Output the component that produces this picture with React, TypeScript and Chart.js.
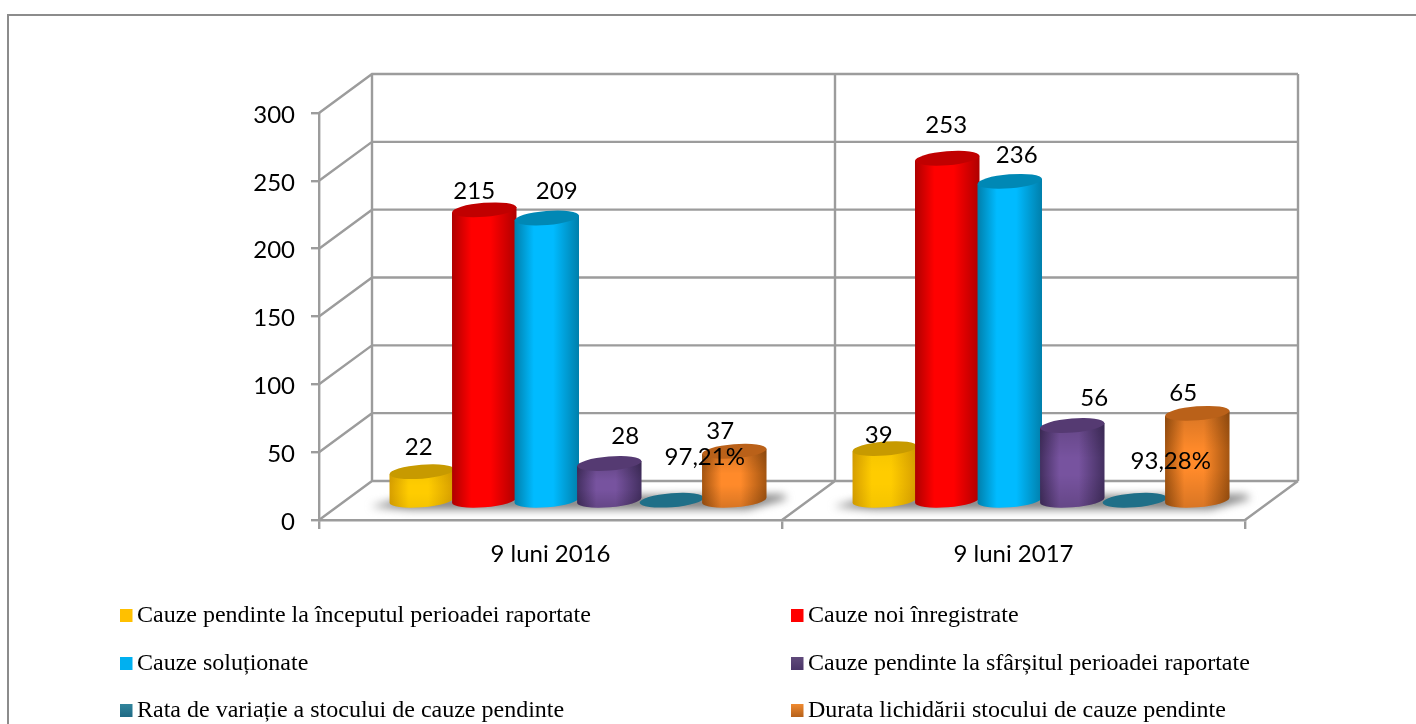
import React, { useEffect, useRef } from "react";
import { Chart, registerables } from "chart.js";

Chart.register(...registerables);

const categories = ["9 luni 2016", "9 luni 2017"];
const pendingStart = [22, 39];
const newCases = [215, 253];
const solved = [209, 236];
const pendingEnd = [28, 56];
const variationRate = [0.9721, 0.9328];
const clearanceTime = [37, 65];
const seriesNames = [
  "Cauze pendinte la începutul perioadei raportate",
  "Cauze noi înregistrate",
  "Cauze soluționate",
  "Cauze pendinte la sfârșitul perioadei raportate",
  "Rata de variație a stocului de cauze pendinte",
  "Durata lichidării stocului de cauze pendinte",
];
const seriesValues = [pendingStart, newCases, solved, pendingEnd, variationRate, clearanceTime];
const valueTicks = [0, 50, 100, 150, 200, 250, 300];

// Colours per series: legend, light centre, dark edge, top face, legend swatch bottom
const palette = [
  ["#FFC000", "#FFCC00", "#D69E00", "#C79A00", "#FFC000"],
  ["#FF0000", "#FF0000", "#AE0000", "#C00000", "#FF0000"],
  ["#00B0F0", "#00BBFF", "#007FAB", "#0088B5", "#00B0F0"],
  ["#604A7B", "#77539F", "#432F60", "#553A72", "#4A3568"],
  ["#31859C", "#1F6F88", "#1F6F88", "#1F6F88", "#1F6A85"],
  ["#F08A30", "#FF8A2A", "#A35410", "#BA6119", "#B5611A"],
];
const bodyShade = [0.04, 0, 0, 0.15, 0, 0.15];

// Manually moved data labels (dx from bar centre, dy from bar top), per series and category
const labelShift = [
  [[-2, -23], [-5, -12]],
  [[-9, -18], [0, -32]],
  [[11, -26], [8, -25]],
  [[17, -26], [23, -26]],
  [[34, -42], [37, -38]],
  [[-13, -19], [-13, -19]],
];

const DEPTH_X = 53;
const DEPTH_Y = -39;
const LINE = "#9C9C9C";
const TILT = -0.08;
const RY = 7;

const fmt = (v: number) => (v < 2 ? (v * 100).toFixed(2).replace(".", ",") + "%" : String(v));

const scene = {
  id: "scene",
  beforeDatasetsDraw(chart: any) {
    const { ctx, scales } = chart;
    const xs = scales.x;
    const ys = scales.y;
    const left = xs.left;
    const right = xs.right;
    const mid = (left + right) / 2;
    const zero = ys.getPixelForValue(0);
    const topV = ys.getPixelForValue(valueTicks[valueTicks.length - 1]);

    ctx.save();
    // page frame
    ctx.strokeStyle = "#8C8C8C";
    ctx.lineWidth = 2;
    ctx.beginPath();
    ctx.moveTo(8, 724);
    ctx.lineTo(8, 15);
    ctx.lineTo(1416, 15);
    ctx.stroke();

    // walls and floor
    ctx.strokeStyle = LINE;
    ctx.lineWidth = 2.4;
    ctx.beginPath();
    for (const v of valueTicks) {
      const y = ys.getPixelForValue(v);
      ctx.moveTo(left, y);
      ctx.lineTo(left + DEPTH_X, y + DEPTH_Y);
      ctx.lineTo(right + DEPTH_X, y + DEPTH_Y);
    }
    for (const x of [left, mid, right]) {
      ctx.moveTo(x + DEPTH_X, topV + DEPTH_Y);
      ctx.lineTo(x + DEPTH_X, zero + DEPTH_Y);
    }
    for (const x of [mid, right]) {
      ctx.moveTo(x, zero);
      ctx.lineTo(x + DEPTH_X, zero + DEPTH_Y);
    }
    ctx.stroke();

    const metas = seriesValues.map((_, i) => chart.getDatasetMeta(i));
    const ox = DEPTH_X / 2 + 1;
    const oy = DEPTH_Y / 2 + 1;

    // floor shadows
    categories.forEach((_, c) => {
      const a = metas[0].data[c];
      const b = metas[5].data[c];
      const x0 = a.x - a.width / 2 + ox - 20;
      const x1 = b.x + b.width / 2 + ox + 22;
      const yb = zero + oy + 3;
      ctx.save();
      ctx.filter = "blur(4px)";
      ctx.fillStyle = "rgba(115,115,115,0.9)";
      ctx.beginPath();
      ctx.moveTo(x0, yb + 2);
      ctx.lineTo(x0 + 40, yb - 8);
      ctx.lineTo(x1 - 5, yb - 10);
      ctx.lineTo(x1, yb - 6);
      ctx.lineTo(x1 - 40, yb + 5);
      ctx.lineTo(x0 + 40, yb + 5);
      ctx.closePath();
      ctx.fill();
      ctx.restore();
    });

    // cylinders, left to right
    categories.forEach((_, c) => {
      metas.forEach((meta: any, s: number) => {
        const el = meta.data[c];
        const cx = el.x + ox;
        const rx = el.width / 2 + 1;
        const yTop = el.y + oy;
        const yBase = el.base + oy;
        const [, light, dark, top] = palette[s];
        const dy = Math.sin(TILT) * rx;
        const grad = ctx.createLinearGradient(cx - rx, 0, cx + rx, 0);
        grad.addColorStop(0, dark);
        grad.addColorStop(0.3, light);
        grad.addColorStop(0.6, light);
        grad.addColorStop(1, dark);
        if (yBase - yTop > 3) {
          const body = new Path2D();
          body.moveTo(cx - rx, yTop - dy);
          body.lineTo(cx + rx, yTop + dy);
          body.lineTo(cx + rx, yBase + dy);
          body.ellipse(cx, yBase, rx, RY, TILT, 0, Math.PI);
          body.closePath();
          ctx.fillStyle = grad;
          ctx.fill(body);
          if (bodyShade[s] > 0) {
            const v = ctx.createLinearGradient(0, yTop, 0, yBase + RY);
            v.addColorStop(0, `rgba(0,0,0,${bodyShade[s]})`);
            v.addColorStop(0.4, "rgba(0,0,0,0)");
            v.addColorStop(0.6, "rgba(0,0,0,0)");
            v.addColorStop(1, `rgba(0,0,0,${bodyShade[s]})`);
            ctx.fillStyle = v;
            ctx.fill(body);
          }
        }
        ctx.fillStyle = top;
        ctx.beginPath();
        ctx.ellipse(cx, yTop, rx, RY, TILT, 0, Math.PI * 2);
        ctx.fill();
      });
    });
    ctx.restore();
    return false;
  },
  afterDraw(chart: any) {
    const { ctx, scales } = chart;
    ctx.save();
    ctx.fillStyle = "#000";
    ctx.font = "24px Lato";
    ctx.textAlign = "center";
    ctx.textBaseline = "middle";
    seriesValues.forEach((vals, s) => {
      vals.forEach((v, c) => {
        const el = chart.getDatasetMeta(s).data[c];
        const [dx, dy] = labelShift[s][c];
        ctx.fillText(fmt(v), el.x + DEPTH_X / 2 + dx, scales.y.getPixelForValue(v) + DEPTH_Y / 2 + dy);
      });
    });

    // legend in two columns, from the datasets
    const cols = [120, 791];
    const rows = [615, 663, 710];
    ctx.font = "24px 'Liberation Serif'";
    ctx.textAlign = "left";
    chart.data.datasets.forEach((d: any, i: number) => {
      const x = cols[i % 2];
      const y = rows[Math.floor(i / 2)];
      const g = ctx.createLinearGradient(0, y - 6, 0, y + 7);
      g.addColorStop(0, d.backgroundColor);
      g.addColorStop(1, palette[i][4]);
      ctx.fillStyle = g;
      ctx.fillRect(x, y - 6, 12.5, 13);
      ctx.fillStyle = "#000";
      ctx.fillText(d.label, x + 17, y + 1);
    });
    ctx.restore();
  },
};

export default function App() {
  const ref = useRef<HTMLCanvasElement | null>(null);
  useEffect(() => {
    const chart = new Chart(ref.current as HTMLCanvasElement, {
      type: "bar",
      data: {
        labels: categories,
        datasets: seriesNames.map((label, i) => ({
          label,
          data: seriesValues[i],
          backgroundColor: palette[i][0],
        })),
      },
      options: {
        responsive: false,
        animation: false,
        events: [],
        datasets: { bar: { barPercentage: 1, categoryPercentage: 0.81 } },
        layout: { padding: { top: 113, right: 171, left: 0, bottom: 0 } },
        plugins: { legend: { display: false }, tooltip: { enabled: false }, title: { display: false } },
        scales: {
          x: {
            afterFit: (s: any) => { s.height = 204; },
            border: { color: LINE, width: 2.4 },
            grid: { drawOnChartArea: false, color: LINE, lineWidth: 2.4, tickLength: 9, offset: true },
            ticks: { color: "#000", font: { family: "Lato", size: 24 }, padding: 11, maxRotation: 0 },
          },
          y: {
            min: 0,
            max: 300,
            afterFit: (s: any) => { s.width = 319; },
            afterBuildTicks: (s: any) => { s.ticks = valueTicks.map((value) => ({ value })); },
            border: { color: LINE, width: 2.4 },
            grid: { drawOnChartArea: false, color: LINE, lineWidth: 2.4, tickLength: 8 },
            ticks: { color: "#000", font: { family: "Lato", size: 24 }, padding: 16, labelOffset: 2 },
          },
        },
      },
      plugins: [scene],
    } as any);
    return () => chart.destroy();
  }, []);
  return (
    <div style={{ position: "absolute", left: 0, top: 0, width: 1416, height: 724, overflow: "hidden", background: "#fff" }}>
      <canvas ref={ref} width={1416} height={724} style={{ display: "block" }} />
    </div>
  );
}
